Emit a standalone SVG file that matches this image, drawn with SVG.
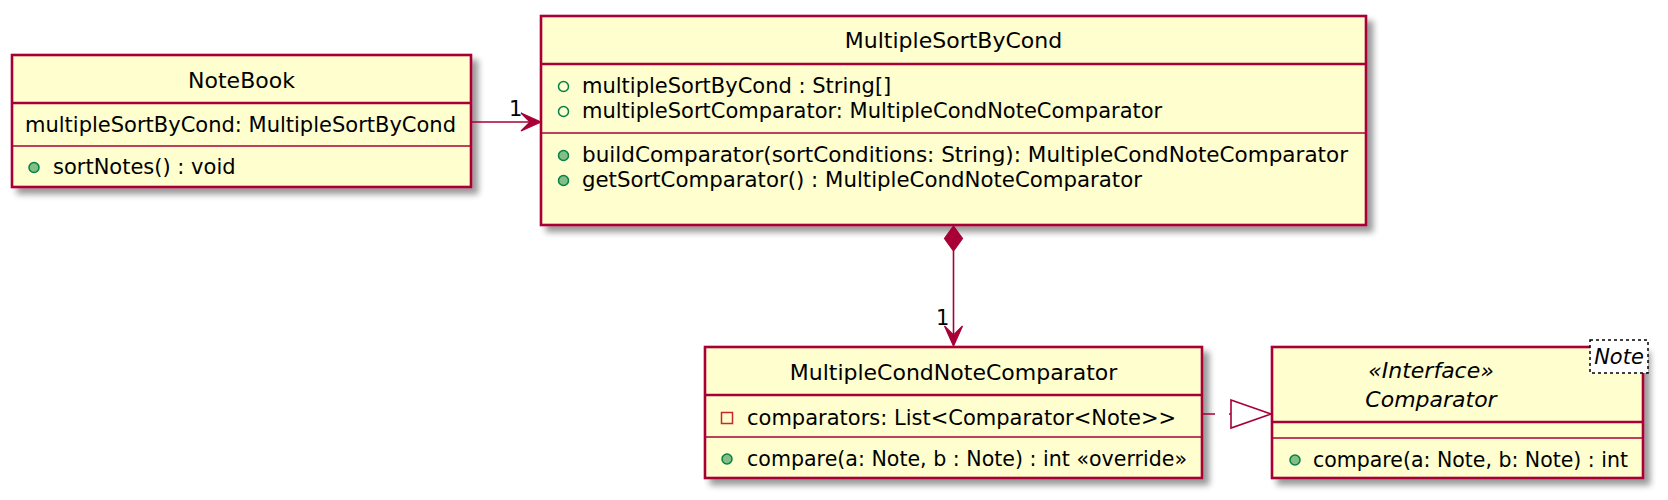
<svg xmlns="http://www.w3.org/2000/svg" width="1668" height="500" viewBox="0 0 1668 500">
<style>
text{font-family:"DejaVu Sans","Liberation Sans",sans-serif;fill:#000}
.t{font-size:22px;text-anchor:middle}
.m{font-size:21px}
.i{font-style:italic}
.box{fill:#FEFECE;stroke:#A80036;stroke-width:2.6}
.sep{stroke:#A80036;stroke-width:2.6}
.thin{stroke:#A80036;stroke-width:1.5}
.pubm{fill:#84BE84;stroke:#038048;stroke-width:1.5}
.puba{fill:none;stroke:#038048;stroke-width:1.5}
.priv{fill:none;stroke:#C82930;stroke-width:1.5}
.edge{stroke:#A80036;stroke-width:1.6;fill:none}
.head{fill:#A80036;stroke:#A80036;stroke-width:1.2}
</style>
<defs>
<filter id="sh" x="-5%" y="-10%" width="115%" height="130%">
<feGaussianBlur in="SourceAlpha" stdDeviation="3"/>
<feOffset dx="6" dy="6" result="b"/>
<feComponentTransfer><feFuncA type="linear" slope="0.4"/></feComponentTransfer>
<feMerge><feMergeNode/><feMergeNode in="SourceGraphic"/></feMerge>
</filter>
</defs>
<rect width="1668" height="500" fill="#FFFFFF"/>

<g id="NoteBook">
<rect class="box" x="12" y="55" width="459" height="132" filter="url(#sh)"/>
<text class="t" x="241.5" y="88">NoteBook</text>
<line class="sep" x1="12" y1="103" x2="471" y2="103"/>
<text class="m" x="25" y="132">multipleSortByCond: MultipleSortByCond</text>
<line class="thin" x1="12" y1="146" x2="471" y2="146"/>
<circle class="pubm" cx="34" cy="167.5" r="5"/>
<text class="m" x="53" y="174">sortNotes() : void</text>
</g>

<g id="MultipleSortByCond">
<rect class="box" x="541" y="16" width="825" height="209" filter="url(#sh)"/>
<text class="t" x="953.5" y="48">MultipleSortByCond</text>
<line class="sep" x1="541" y1="64" x2="1366" y2="64"/>
<circle class="puba" cx="563.5" cy="86.5" r="5"/>
<text class="m" x="582" y="93">multipleSortByCond : String[]</text>
<circle class="puba" cx="563.5" cy="111.5" r="5"/>
<text class="m" x="582" y="118">multipleSortComparator: MultipleCondNoteComparator</text>
<line class="thin" x1="541" y1="133" x2="1366" y2="133"/>
<circle class="pubm" cx="563.5" cy="155.5" r="5"/>
<text class="m" x="582" y="162" textLength="766" lengthAdjust="spacingAndGlyphs">buildComparator(sortConditions: String): MultipleCondNoteComparator</text>
<circle class="pubm" cx="563.5" cy="180.5" r="5"/>
<text class="m" x="582" y="187" textLength="560" lengthAdjust="spacingAndGlyphs">getSortComparator() : MultipleCondNoteComparator</text>
</g>

<g id="MultipleCondNoteComparator">
<rect class="box" x="705" y="347" width="497" height="131" filter="url(#sh)"/>
<text class="t" x="953.5" y="380">MultipleCondNoteComparator</text>
<line class="sep" x1="705" y1="395" x2="1202" y2="395"/>
<rect class="priv" x="721.5" y="412.5" width="11" height="11"/>
<text class="m" x="747" y="425">comparators: List&lt;Comparator&lt;Note&gt;&gt;</text>
<line class="thin" x1="705" y1="437" x2="1202" y2="437"/>
<circle class="pubm" cx="727" cy="459" r="5"/>
<text class="m" x="747" y="466" textLength="440" lengthAdjust="spacingAndGlyphs">compare(a: Note, b : Note) : int «override»</text>
</g>

<g id="Comparator">
<rect class="box" x="1272" y="347" width="371" height="131" filter="url(#sh)"/>
<text class="t i" x="1431" y="378">«Interface»</text>
<text class="t i" x="1431" y="407">Comparator</text>
<line class="sep" x1="1272" y1="422" x2="1643" y2="422"/>
<line class="thin" x1="1272" y1="438" x2="1643" y2="438"/>
<circle class="pubm" cx="1295" cy="460" r="5"/>
<text class="m" x="1313" y="467" textLength="315" lengthAdjust="spacingAndGlyphs">compare(a: Note, b: Note) : int</text>
<rect x="1590" y="340" width="58" height="33" fill="#FFFFFF" stroke="#000000" stroke-width="1.5" stroke-dasharray="3,3"/>
<text class="m i" x="1619" y="364" text-anchor="middle">Note</text>
</g>

<g id="connectors">
<line class="edge" x1="472" y1="122" x2="534" y2="122"/>
<polygon class="head" points="541,122 521,113 530,122 521,131"/>
<text class="m" x="509" y="116">1</text>

<polygon class="head" points="953.5,226 962.5,238.5 953.5,251 944.5,238.5"/>
<line class="edge" x1="953.5" y1="251" x2="953.5" y2="340"/>
<polygon class="head" points="953.5,346 944.5,326 953.5,335 962.5,326"/>
<text class="m" x="936" y="325">1</text>

<line class="edge" x1="1203" y1="414" x2="1231" y2="414" stroke-dasharray="12,14"/>
<polygon class="edge" points="1231,400 1271,414 1231,428" fill="#FFFFFF"/>
</g>
</svg>
